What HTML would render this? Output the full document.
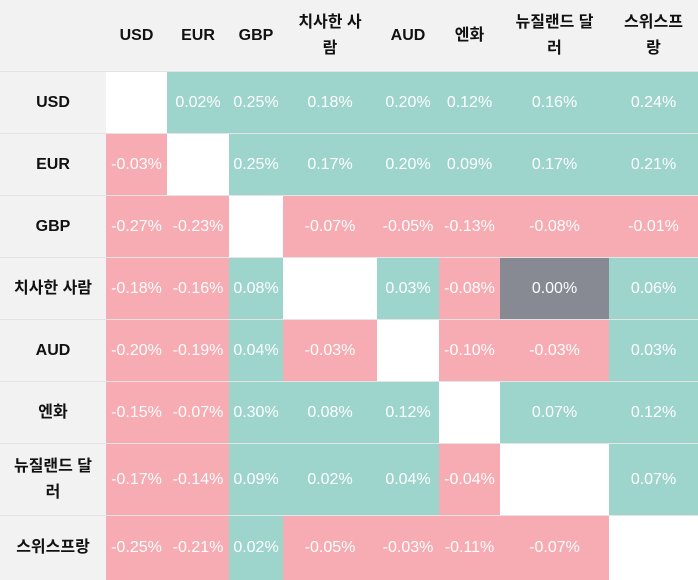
<!DOCTYPE html>
<html><head><meta charset="utf-8"><style>
body{margin:0;width:698px;height:580px;background:#f2f2f2;position:relative;overflow:hidden;font-family:"Liberation Sans","Noto Sans CJK KR",sans-serif;font-size:16px}
.c{position:absolute;display:flex;align-items:center;justify-content:center;text-align:center;line-height:26px}
.h{font-weight:bold;color:#111}
.v{color:#fff}
.g{background:#9dd5cc}.p{background:#f7abb2}.w{background:#fff}.k{background:#878a92}
.ln{position:absolute;left:0;width:698px;height:1px;background:#e4e4e4}
</style></head><body>
<div id="t"></div>
<script>
const cx=[106,167,229,283,377,439,500,609,698];
const ry=[72,134,196,258,320,382,444,516,580];
const cols=["USD","EUR","GBP","치사한 사<br>람","AUD","엔화","뉴질랜드 달<br>러","스위스프<br>랑"];
const rows=["USD","EUR","GBP","치사한 사람","AUD","엔화","뉴질랜드 달<br>러","스위스프랑"];
const data=[
["","0.02%","0.25%","0.18%","0.20%","0.12%","0.16%","0.24%"],
["-0.03%","","0.25%","0.17%","0.20%","0.09%","0.17%","0.21%"],
["-0.27%","-0.23%","","-0.07%","-0.05%","-0.13%","-0.08%","-0.01%"],
["-0.18%","-0.16%","0.08%","","0.03%","-0.08%","0.00%","0.06%"],
["-0.20%","-0.19%","0.04%","-0.03%","","-0.10%","-0.03%","0.03%"],
["-0.15%","-0.07%","0.30%","0.08%","0.12%","","0.07%","0.12%"],
["-0.17%","-0.14%","0.09%","0.02%","0.04%","-0.04%","","0.07%"],
["-0.25%","-0.21%","0.02%","-0.05%","-0.03%","-0.11%","-0.07%",""]];
let h="";
for(let j=0;j<8;j++){h+=`<div class="c h" style="left:${cx[j]}px;top:0;width:${cx[j+1]-cx[j]}px;height:72px;white-space:nowrap">${cols[j]}</div>`;}
for(let i=0;i<8;i++){
 const top=ry[i],hh=ry[i+1]-ry[i]-(i<7?1:0);
 h+=`<div class="c h" style="left:0;top:${top}px;width:106px;height:${hh}px;white-space:nowrap">${rows[i]}</div>`;
 for(let j=0;j<8;j++){const v=data[i][j];let cl=v===""?"w":(v==="0.00%"?"k":(v[0]=="-"?"p":"g"));
 h+=`<div class="c v ${cl}" style="left:${cx[j]}px;top:${top}px;width:${cx[j+1]-cx[j]}px;height:${hh}px;white-space:nowrap">${v}</div>`;}
 if(i<7)h+=`<div class="ln" style="top:${ry[i+1]-1}px"></div>`;
}
h+=`<div class="ln" style="top:71px"></div>`;
document.getElementById("t").innerHTML=h;
</script>
</body></html>
